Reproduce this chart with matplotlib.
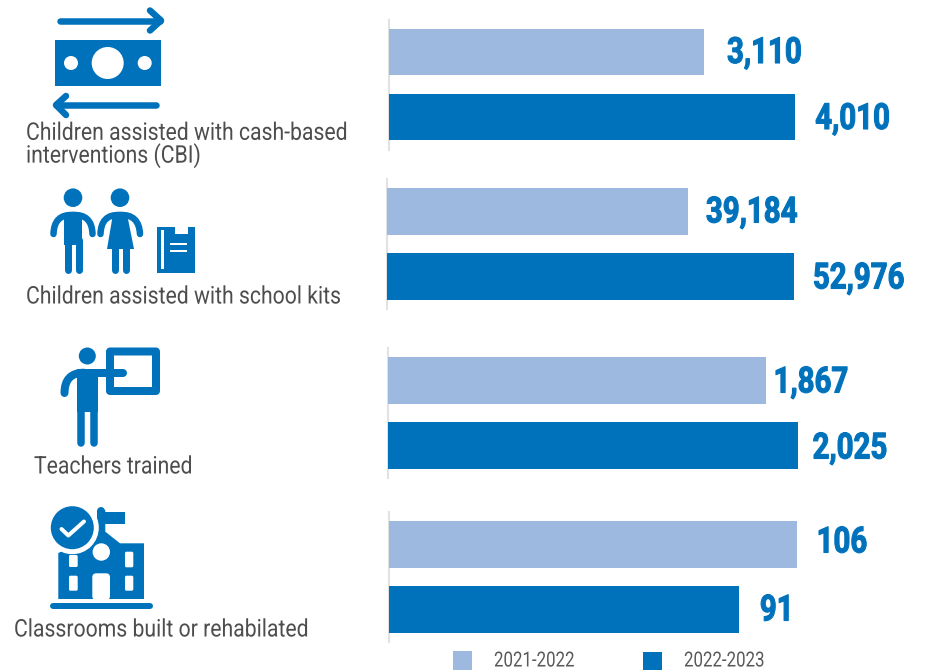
import matplotlib
matplotlib.use("Agg")
import matplotlib.pyplot as plt
from matplotlib.patches import Circle, FancyBboxPatch, PathPatch, Polygon, Rectangle
from matplotlib.patheffects import AbstractPathEffect
from matplotlib.path import Path
from matplotlib.transforms import Affine2D

W, H = 926, 670
LIGHT = "#9DB9E0"
BLUE = "#0072BC"
GREY = "#4D4D4D"

series_names = ["2021-2022", "2022-2023"]
cash_values = [3110, 4010]
kits_values = [39184, 52976]
teachers_values = [1867, 2025]
classrooms_values = [106, 91]
value_labels = [["3,110", "4,010"], ["39,184", "52,976"], ["1,867", "2,025"], ["106", "91"]]

# panel layout, in pixels: axis x, axis top, px per unit, label offset from bar end (y down)
panels = [
    (389, 19.5, 0.1013, [(23, 1), (20, 2)], cash_values),
    (387, 179, 0.00768, [(18, 1), (19, 2)], kits_values),
    (387.5, 348, 0.2025, [(8, 2), (15, 3)], teachers_values),
    (388.5, 512, 3.85, [(20, -2), (21, 1)], classrooms_values),
]


class Squeeze(AbstractPathEffect):
    # no Roboto Condensed here, so narrow the glyphs of normal Roboto
    def __init__(self, sx, lw=0):
        super().__init__()
        self.sx = sx
        self.lw = lw

    def draw_path(self, renderer, gc, tpath, affine, rgbFace=None):
        gc0 = renderer.new_gc()
        gc0.copy_properties(gc)
        gc0.set_linewidth(self.lw)
        if self.lw:
            gc0.set_foreground(rgbFace)
        renderer.draw_path(gc0, tpath, Affine2D().scale(self.sx, 1) + affine, rgbFace)
        gc0.restore()


plt.rcParams["font.family"] = "Roboto"
fig = plt.figure(figsize=(W / 100, H / 100), dpi=100)

# overlay in pixel coords for icons, captions and legend
bg = fig.add_axes([0, 0, 1, 1])
bg.set_xlim(0, W)
bg.set_ylim(H, 0)
bg.axis("off")


def stroke(pts, lw, color=BLUE, curve=False, z=3):
    if curve:
        codes = [Path.MOVETO, Path.CURVE3, Path.CURVE3]
    else:
        codes = [Path.MOVETO] + [Path.LINETO] * (len(pts) - 1)
    bg.add_patch(PathPatch(Path(pts, codes), fill=False, ec=color, lw=lw * 0.72,
                           capstyle="round", joinstyle="round", zorder=z))


def box(x0, y0, x1, y1, color=BLUE, z=3):
    bg.add_patch(Rectangle((x0, y0), x1 - x0, y1 - y0, fc=color, ec="none", zorder=z))


def rbox(x0, y0, x1, y1, r=1.5, color="white", z=4):
    bg.add_patch(FancyBboxPatch((x0 + r, y0 + r), x1 - x0 - 2 * r, y1 - y0 - 2 * r,
                                boxstyle="round,pad=%s" % r, fc=color, ec="none", zorder=z))


def dot(x, y, r, color=BLUE, z=3):
    bg.add_patch(Circle((x, y), r, fc=color, ec="none", zorder=z))


def caption(x, y, s):
    bg.text(x, y, s, fontsize=17.5, color=GREY, va="center", linespacing=0.92,
            path_effects=[Squeeze(0.872)])


# cash icon
stroke([(60, 20.5), (160, 20.5)], 6.5)
stroke([(150, 10.5), (161, 20.5), (150, 30.5)], 6.5)
box(55, 40, 160.5, 85.5)
dot(107.7, 63, 16, "white", 4)
dot(71, 63, 7, "white", 4)
dot(144.7, 63, 7, "white", 4)
stroke([(156, 105), (56, 105)], 6.5)
stroke([(66, 96), (56, 105), (66, 115)], 6.5)

# children icon
dot(73, 197.7, 9.3)
dot(120, 197.7, 9.3)
box(64.3, 213, 81.7, 245)
stroke([(67.5, 240), (67.5, 270)], 7)
stroke([(78.5, 240), (78.5, 270)], 7)
stroke([(73, 215), (54, 214), (53.5, 234)], 6.5, curve=True)
stroke([(73, 215), (92, 214), (92.5, 234)], 6.5, curve=True)
bg.add_patch(Polygon([(113, 214), (127, 214), (134, 249), (107, 249)], fc=BLUE, ec="none", zorder=3))
stroke([(115, 245), (115, 270)], 7)
stroke([(125.5, 245), (125.5, 270)], 7)
stroke([(120, 215), (101, 214), (100.5, 234)], 6.5, curve=True)
stroke([(120, 215), (139, 214), (140, 234)], 6.5, curve=True)
box(157.3, 226.7, 195, 272.7)
box(161, 230, 163.5, 269, "white", 4)
box(175, 226.7, 188, 233.5, "white", 4)
box(170, 242.5, 186.5, 245, "white", 4)
box(170, 249.5, 186.5, 252, "white", 4)

# teacher icon
dot(87.3, 356, 8.5)
box(77, 369, 97.7, 412)
stroke([(80.7, 410), (80.7, 443)], 7.5)
stroke([(93.7, 410), (93.7, 443)], 7.5)
stroke([(90, 372.7), (123, 372.7)], 8, z=5)
stroke([(84, 372.7), (64.5, 372.7), (64.5, 393)], 8, curve=True)
bg.add_patch(FancyBboxPatch((110, 351.5), 46, 39.5, boxstyle="round,pad=0", fc="none",
                            ec=BLUE, lw=8 * 0.72, joinstyle="round", zorder=3))

# school icon
stroke([(53, 606.3), (149.5, 606.3)], 6)
bg.add_patch(Polygon([(58.3, 599), (144, 599), (144, 543.3), (120, 543.3), (105.3, 531.7),
                      (105.3, 510), (97.3, 510), (97.3, 535), (58.3, 553)],
                     fc=BLUE, ec="none", zorder=3))
stroke([(101.3, 511), (101.3, 530)], 8)
box(105.3, 511.7, 125, 524.3)
dot(101.3, 552, 8.7, "white", 4)
rbox(125, 551.7, 133.3, 567.3)
rbox(125, 575.7, 133.3, 590.7)
rbox(69, 575.7, 77.7, 590.7)
rbox(69, 555, 77.7, 567)
rbox(92.3, 573.3, 110, 600, 4)
dot(72.3, 527.7, 26.5, "white", 5)
dot(72.3, 527.7, 21.5, BLUE, 6)
stroke([(61.5, 529), (68.3, 535.5), (84, 521.5)], 4, "white", z=7)

# captions
caption(26, 145, "Children assisted with cash-based\ninterventions (CBI)")
caption(26, 297, "Children assisted with school kits")
caption(34, 467, "Teachers trained")
caption(14, 630, "Classrooms built or rehabilated")

# legend
box(453, 651, 472, 670, LIGHT)
box(643, 652, 662, 670, BLUE)
for x, name in zip([494, 684], series_names):
    bg.text(x, 661, name, fontsize=15, color="#595959", va="center",
            path_effects=[Squeeze(0.81)])

# one bar panel per indicator, each on its own scale
for (x0, top, scale, offsets, values), labels in zip(panels, value_labels):
    ax_w = W - x0
    ax = fig.add_axes([x0 / W, 1 - (top + 130) / H, ax_w / W, 130 / H])
    ax.patch.set_alpha(0)
    ax.barh([0, 1], values, height=0.723, color=[LIGHT, BLUE], zorder=3)
    ax.set_xlim(0, ax_w / scale)
    ax.set_ylim(1.5, -0.5)
    for side in ["top", "right", "bottom"]:
        ax.spines[side].set_visible(False)
    ax.spines["left"].set_color("#E2E2E2")
    ax.spines["left"].set_linewidth(1.5)
    ax.spines["left"].set_zorder(1)
    ax.set_xticks([])
    ax.set_yticks([])
    for i in range(2):
        ax.annotate(labels[i], (values[i], i),
                    xytext=(offsets[i][0] * 0.72, -offsets[i][1] * 0.72),
                    textcoords="offset points", fontsize=26, fontweight="bold",
                    color=BLUE, va="center", ha="left", path_effects=[Squeeze(0.815, 0.8)])

fig.savefig("out.png", dpi=100)
